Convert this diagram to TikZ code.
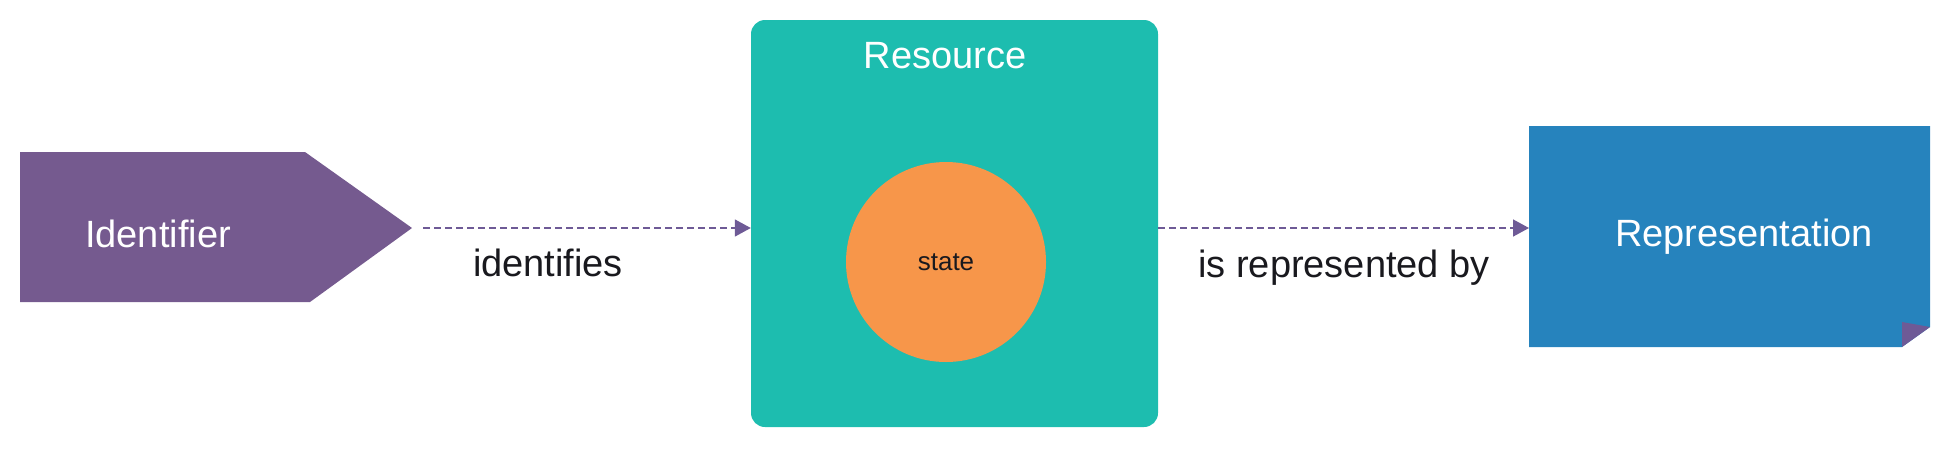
\documentclass[tikz,border=0pt]{standalone}
\usepackage{fontspec}
\setmainfont{Liberation Sans}
\usetikzlibrary{arrows.meta}
\definecolor{idpurple}{RGB}{117,90,143}
\definecolor{resteal}{RGB}{29,189,175}
\definecolor{stateorange}{RGB}{247,150,74}
\definecolor{repblue}{RGB}{38,131,189}
\definecolor{arrowpurple}{RGB}{110,90,150}
\definecolor{txtdark}{RGB}{25,25,30}
\tikzset{
  bigtxt/.style={font=\fontsize{38}{40}\selectfont, inner sep=0pt, anchor=base},
  whitetxt/.style={bigtxt, text=white},
  darktxt/.style={bigtxt, text=txtdark},
  conn/.style={draw=arrowpurple, line width=1.5pt, dash pattern=on 7pt off 4pt,
    -{Triangle[length=16pt,width=17pt,fill=arrowpurple]}},
}
\begin{document}
\begin{tikzpicture}[x=1pt,y=-1pt]
\useasboundingbox (0,0) rectangle (1950,448);
% Identifier
\fill[idpurple] (20,152) -- (305,152) -- (412,228) -- (310,302) -- (20,302) -- cycle;
\coordinate (idtip) at (412,228);
\node[whitetxt] (idtxt) at (158,247) {Identifier};
% Resource
\node[fill=resteal, rounded corners=14pt, minimum width=407pt, minimum height=407pt, inner sep=0pt] (res) at (954.5,223.5) {};
\node[whitetxt] (restxt) at (945,68) {Resource};
\node[circle, fill=stateorange, minimum size=200pt, inner sep=0pt, text=txtdark,
  font=\fontsize{26}{28}\selectfont] (state) at (946,262) {state};
% Representation
\fill[repblue] (1529,126) -- (1930,126) -- (1930,327) -- (1902,347) -- (1529,347) -- cycle;
\fill[arrowpurple] (1902,322) -- (1930,327) -- (1902,347) -- cycle;
\coordinate (repw) at (1529,228);
\node[whitetxt] (reptxt) at (1744,246) {Representation};
% connectors
\coordinate (resw) at (res.west |- idtip);
\coordinate (rese) at (res.east |- idtip);
\draw[conn] ([xshift=11pt]idtip) -- (resw);
\draw[conn] (rese) -- (repw);
\node[darktxt] (lab1) at (548,276) {identifies};
\node[darktxt] (lab2) at (1344,277) {is represented by};
\end{tikzpicture}
\end{document}
